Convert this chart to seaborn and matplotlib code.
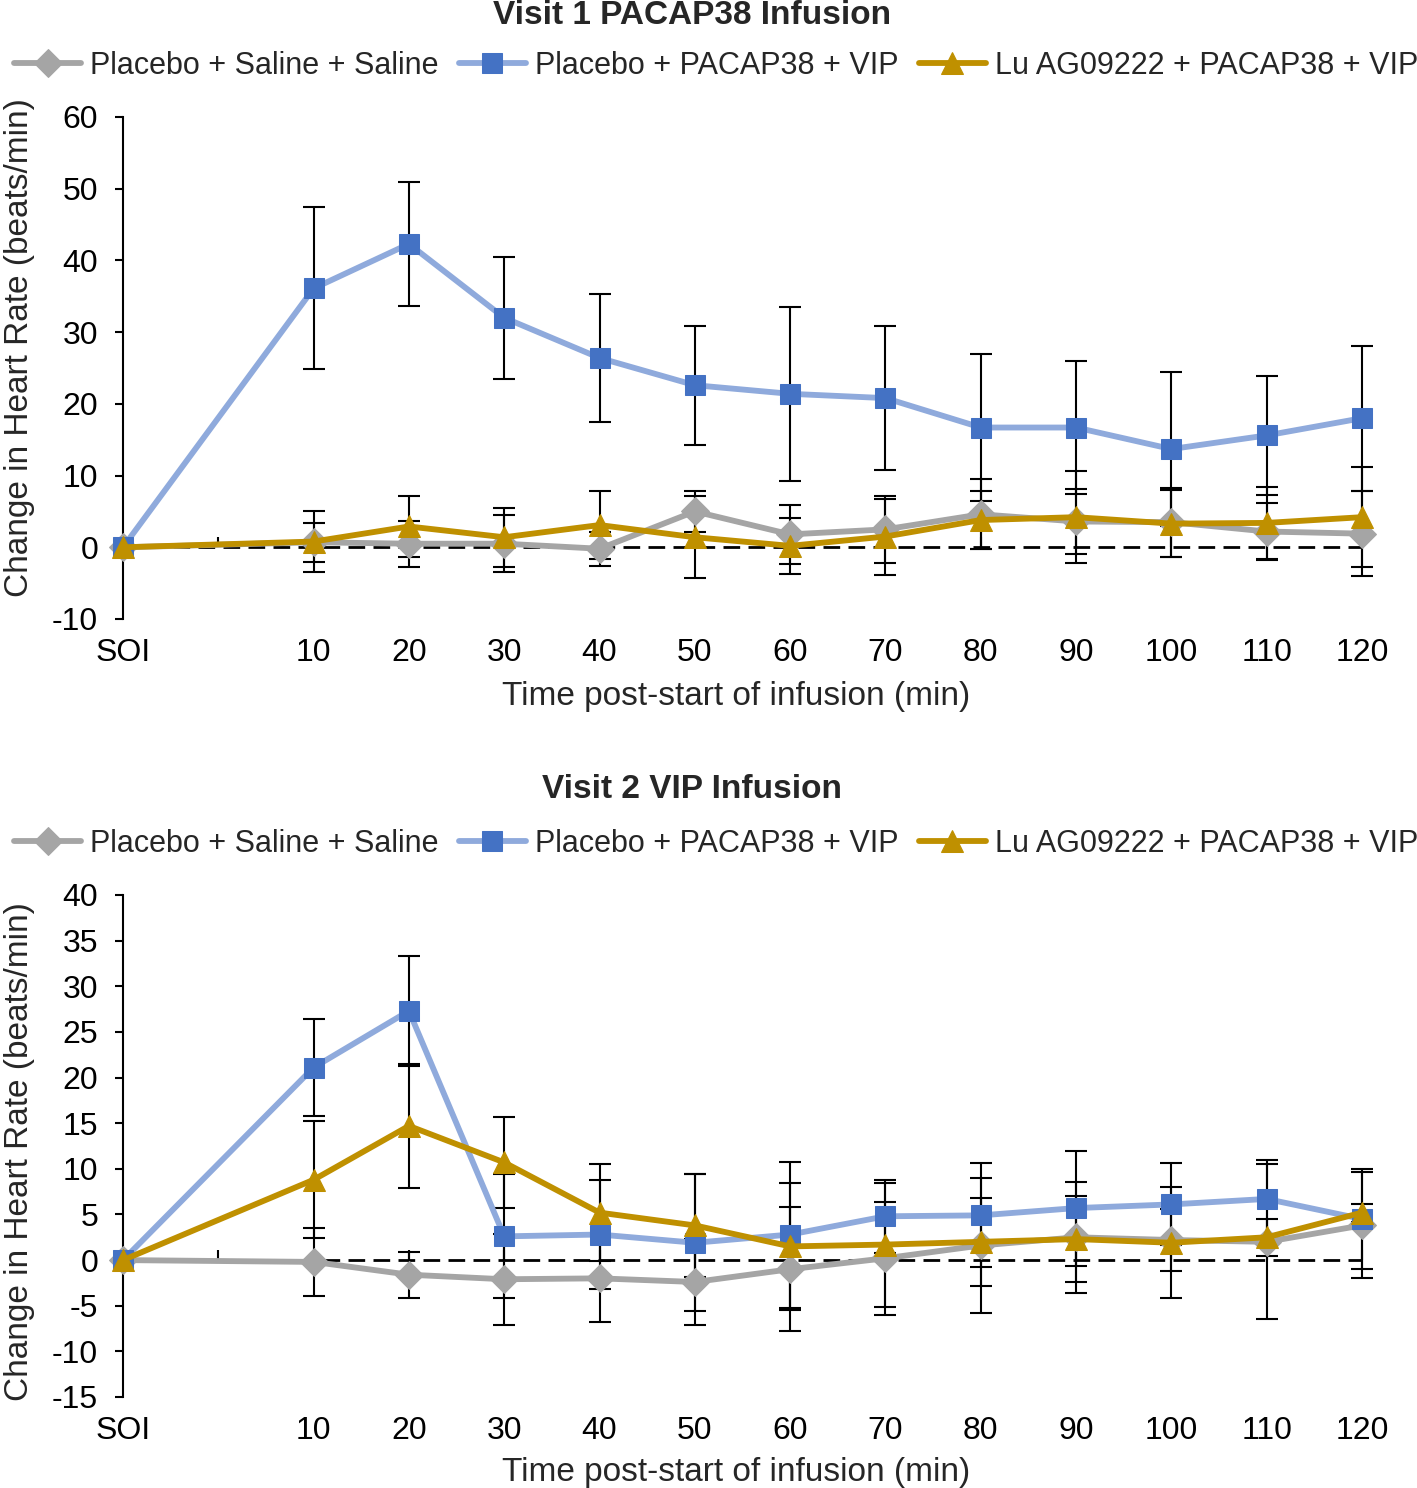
import matplotlib
matplotlib.use('Agg')
import matplotlib.pyplot as plt
import numpy as np
import pandas as pd
import seaborn as sns

# time axis: SOI sits two category widths left of 10 min, blank slot at 0
time_pos = [-10, 10, 20, 30, 40, 50, 60, 70, 80, 90, 100, 110, 120]
tick_pos = [-10, 0, 10, 20, 30, 40, 50, 60, 70, 80, 90, 100, 110, 120]
tick_labels = ['SOI', '', '10', '20', '30', '40', '50', '60', '70', '80', '90', '100', '110', '120']

series_names = ['Placebo + Saline + Saline', 'Placebo + PACAP38 + VIP', 'Lu AG09222 + PACAP38 + VIP']

# Visit 1 (PACAP38 infusion)
v1_placebo = [0, 0.7, 0.5, 0.5, -0.2, 5.0, 1.8, 2.5, 4.6, 3.6, 3.5, 2.2, 1.9]
v1_placebo_err = [0, 2.7, 3.2, 4.0, 2.4, 2.8, 4.1, 4.7, 4.9, 4.5, 4.8, 4.0, 5.9]
v1_pacap = [0, 36.1, 42.3, 32.0, 26.4, 22.6, 21.4, 20.8, 16.7, 16.7, 13.7, 15.6, 18.0]
v1_pacap_err = [0, 11.3, 8.7, 8.5, 8.9, 8.3, 12.1, 10.0, 10.2, 9.3, 10.8, 8.3, 10.1]
v1_lu = [0, 0.8, 2.9, 1.4, 3.1, 1.4, 0.2, 1.5, 3.8, 4.2, 3.3, 3.4, 4.2]
v1_lu_err = [0, 4.2, 4.2, 4.1, 4.7, 5.7, 3.9, 5.3, 4.1, 6.4, 4.7, 5.0, 7.0]

# Visit 2 (VIP infusion)
v2_placebo = [0, -0.2, -1.6, -2.1, -2.0, -2.4, -1.0, 0.2, 1.6, 2.5, 2.2, 2.0, 3.8]
v2_placebo_err = [0, 3.7, 2.5, 5.0, 4.8, 4.7, 6.8, 6.2, 7.4, 6.1, 3.4, 8.5, 5.8]
v2_pacap = [0, 21.1, 27.3, 2.6, 2.8, 1.9, 2.8, 4.8, 4.9, 5.7, 6.1, 6.7, 4.5]
v2_pacap_err = [0, 5.3, 6.0, 6.8, 6.0, 7.5, 8.0, 4.0, 5.7, 6.3, 4.5, 4.3, 5.5]
v2_lu = [0, 8.8, 14.7, 10.7, 5.2, 3.8, 1.5, 1.7, 2.0, 2.3, 1.9, 2.5, 5.2]
v2_lu_err = [0, 6.4, 6.8, 5.0, 5.3, 5.6, 7.0, 6.8, 4.8, 4.7, 6.1, 2.0, 1.0]

styles = [
    dict(line='#A5A5A5', face='#A5A5A5', marker='D', ms=14),
    dict(line='#8FAADC', face='#4472C4', marker='s', ms=15),
    dict(line='#BF9000', face='#BF9000', marker='^', ms=16),
]

sns.set_style('white')
plt.rcParams['font.family'] = ['Liberation Sans', 'DejaVu Sans']
plt.rcParams['axes.unicode_minus'] = False

W, H = 1417, 1488
fig = plt.figure(figsize=(W / 100, H / 100), dpi=100)


def panel(rect, title, title_y, legend_y, xlabel_y, ylabel_y, data, ylim, ystep):
    ax = fig.add_axes(rect)
    for i, ((vals, errs), st, name) in enumerate(zip(data, styles, series_names)):
        eb = ax.errorbar(time_pos, vals, yerr=errs, fmt='none', ecolor='black',
                         elinewidth=1.5, capsize=8, capthick=1.5, zorder=2)
        for c in eb.get_children():
            c.set_clip_on(False)
        df = pd.DataFrame({'time': time_pos, 'hr': vals})
        sns.lineplot(data=df, x='time', y='hr', ax=ax, label=name, color=st['line'],
                     linewidth=4.2, marker=st['marker'], markersize=st['ms'],
                     markerfacecolor=st['face'], markeredgecolor=st['face'],
                     zorder=3 + i, clip_on=False)

    ax.axhline(0, color='black', linestyle=(0, (6, 3)), linewidth=2.0, zorder=1.5)
    ax.set_xlim(-10, 120)
    ax.set_ylim(*ylim)
    ax.set_yticks(np.arange(ylim[0], ylim[1] + 1, ystep))
    ax.set_xticks(tick_pos)
    ax.set_xticklabels(tick_labels)
    ax.tick_params(axis='x', length=0, pad=13.5, labelsize=23, colors='black')
    ax.tick_params(axis='y', direction='out', length=6, width=1.5, pad=12,
                   labelsize=23, colors='black', left=True)
    for s in ['top', 'right', 'bottom']:
        ax.spines[s].set_visible(False)
    ax.spines['left'].set_color('black')
    ax.spines['left'].set_linewidth(1.5)
    ax.set_xlabel('')
    ax.set_ylabel('')

    # small category ticks on the zero line
    loc = (0 - ylim[0]) / (ylim[1] - ylim[0])
    sec = ax.secondary_xaxis(loc)
    sec.set_xticks(tick_pos)
    sec.tick_params(direction='in', length=7, width=1.5, labelbottom=False, colors='black')
    sec.spines['bottom'].set_visible(False)

    handles, labels = ax.get_legend_handles_labels()
    ax.get_legend().remove()
    fig.legend(handles, labels, loc='center left', ncol=3,
               bbox_to_anchor=(14 / W, 1 - legend_y / H), frameon=False,
               fontsize=22, handlelength=2.2, handletextpad=0.3,
               columnspacing=0.65, borderpad=0, borderaxespad=0)

    fig.text(692 / W, 1 - title_y / H, title, ha='center', va='center',
             fontsize=24, fontweight='bold')
    fig.text(736 / W, 1 - xlabel_y / H, 'Time post-start of infusion (min)',
             ha='center', va='center', fontsize=24)
    fig.text(20 / W, 1 - ylabel_y / H, 'Change in Heart Rate (beats/min)',
             ha='center', va='center', rotation=90, fontsize=24)
    return ax


def rect_from_px(left, right, top, bottom):
    return [left / W, 1 - bottom / H, (right - left) / W, (bottom - top) / H]


panel(rect_from_px(123, 1362, 117, 619), 'Visit 1 PACAP38 Infusion', 16, 66, 696, 348,
      [(v1_placebo, v1_placebo_err), (v1_pacap, v1_pacap_err), (v1_lu, v1_lu_err)],
      (-10, 60), 10)

panel(rect_from_px(123, 1362, 895, 1397), 'Visit 2 VIP Infusion', 790, 844, 1472, 1152,
      [(v2_placebo, v2_placebo_err), (v2_pacap, v2_pacap_err), (v2_lu, v2_lu_err)],
      (-15, 40), 5)

fig.savefig('out.png', dpi=100)
